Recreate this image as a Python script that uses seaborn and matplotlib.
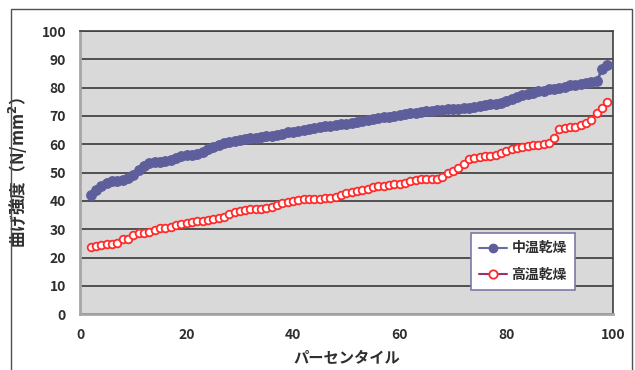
import matplotlib
matplotlib.use("Agg")
import matplotlib.pyplot as plt
import seaborn as sns
import pandas as pd
from matplotlib.patches import Rectangle
from matplotlib.lines import Line2D

# percentile positions
percentiles = list(range(2, 100))

# 中温乾燥 (medium temperature drying)
mid_temp = [
    42.0, 44.0, 45.2, 46.3, 46.9, 47.2, 47.5, 48.0, 49.0, 51.0,
    52.3, 53.5, 53.8, 53.9, 54.1, 54.6, 55.2, 55.8, 56.1, 56.2,
    56.5, 57.3, 58.4, 59.2, 59.8, 60.3, 60.7, 61.1, 61.5, 61.8,
    62.1, 62.4, 62.6, 62.8, 63.1, 63.4, 63.8, 64.2, 64.5, 64.8,
    65.1, 65.4, 65.7, 66.0, 66.3, 66.6, 66.8, 67.0, 67.2, 67.5,
    67.8, 68.2, 68.6, 68.9, 69.2, 69.5, 69.8, 70.1, 70.4, 70.7,
    71.0, 71.2, 71.4, 71.6, 71.8, 72.0, 72.2, 72.3, 72.5, 72.6,
    72.8, 73.0, 73.3, 73.6, 73.9, 74.1, 74.3, 74.6, 75.2, 76.0,
    76.8, 77.3, 77.8, 78.3, 78.7, 79.0, 79.4, 79.7, 80.0, 80.4,
    80.8, 81.1, 81.4, 81.7, 82.0, 82.3, 86.5, 88.0,
]

# 高温乾燥 (high temperature drying)
high_temp = [
    23.6, 24.0, 24.4, 24.6, 24.7, 25.2, 26.4, 26.7, 27.9, 28.5,
    28.7, 29.1, 29.7, 30.3, 30.6, 30.8, 31.4, 32.0, 32.3, 32.5,
    32.8, 33.0, 33.2, 33.5, 33.8, 34.4, 35.2, 36.1, 36.6, 36.9,
    37.0, 37.1, 37.2, 37.4, 37.7, 38.5, 39.3, 39.6, 40.0, 40.3,
    40.5, 40.6, 40.7, 40.8, 40.9, 41.1, 41.4, 42.0, 42.8, 43.2,
    43.5, 43.8, 44.2, 44.8, 45.2, 45.4, 45.6, 45.8, 46.0, 46.4,
    46.9, 47.3, 47.6, 47.7, 47.8, 47.9, 48.5, 49.7, 50.6, 51.5,
    53.2, 54.7, 55.2, 55.6, 55.8, 55.8, 56.2, 56.8, 57.6, 58.2,
    58.8, 59.1, 59.4, 59.6, 59.7, 60.0, 60.3, 62.4, 65.3, 65.6,
    66.0, 66.2, 66.8, 67.4, 68.5, 70.9, 73.0, 74.8,
]

series_labels = ["中温乾燥", "高温乾燥"]
x_ticks = [0, 20, 40, 60, 80, 100]
y_ticks = [0, 10, 20, 30, 40, 50, 60, 70, 80, 90, 100]

sns.set_style("white")
plt.rcParams["font.family"] = ["Noto Sans CJK JP", "DejaVu Sans"]

blue = "#5e5e9c"
red_edge = "#ff2a2a"
red_line = "#993366"
text_col = "#2e2e2e"

fig = plt.figure(figsize=(6.35, 3.7), dpi=100)
ax = fig.add_axes([0.126, 0.151, 0.839, 0.765])

df = pd.DataFrame({"x": percentiles, "mid": mid_temp, "high": high_temp})

sns.lineplot(data=df, x="x", y="mid", ax=ax, color=blue, lw=2,
             marker="o", markersize=7, markerfacecolor=blue,
             markeredgecolor=blue, zorder=3)
sns.lineplot(data=df, x="x", y="high", ax=ax, color=red_edge, lw=1,
             marker="o", markersize=5.5, markerfacecolor="white",
             markeredgecolor=red_edge, markeredgewidth=1.3, zorder=4)

ax.set_facecolor("#d9d9d9")
ax.set_xlim(0, 100)
ax.set_ylim(0, 100)
ax.set_xticks(x_ticks)
ax.set_yticks(y_ticks)
ax.yaxis.grid(True, color="#2b2b2b", lw=1.1)
ax.set_axisbelow(True)
ax.tick_params(length=0, pad=10, labelsize=10, colors=text_col)
for lab in ax.get_xticklabels() + ax.get_yticklabels():
    lab.set_fontweight("bold")

ax.spines["left"].set_color("#a6a6a6")
ax.spines["bottom"].set_color("#a6a6a6")
ax.spines["left"].set_linewidth(2)
ax.spines["bottom"].set_linewidth(2)
ax.spines["top"].set_color("#404040")
ax.spines["right"].set_color("#404040")
ax.spines["top"].set_linewidth(1.2)
ax.spines["right"].set_linewidth(1.2)

ax.set_xlabel("パーセンタイル", fontsize=11, fontweight="bold",
              color=text_col, labelpad=5)
ax.set_ylabel("曲げ強度（N/mm$^\\mathbf{2}$）", fontsize=12, fontweight="bold",
              color=text_col, labelpad=8)

handles = [
    Line2D([], [], color="#6a6aa8", lw=1.5, marker="o", markersize=6,
           markerfacecolor=blue, markeredgecolor=blue),
    Line2D([], [], color=red_line, lw=1.5, marker="o", markersize=6,
           markerfacecolor="white", markeredgecolor=red_edge,
           markeredgewidth=1.3),
]
leg = ax.legend(handles, series_labels, loc="lower left",
                bbox_to_anchor=(0.721, 0.06), frameon=True, fancybox=False,
                framealpha=1, edgecolor="#7a7aa8", handlelength=2.0,
                borderpad=0.6, labelspacing=0.9, handletextpad=0.3,
                prop={"weight": "bold", "size": 10})
leg.get_frame().set_linewidth(1.2)
for t in leg.get_texts():
    t.set_color(text_col)

# outer chart frame (cut off at the bottom like the reference)
fig.patches.append(Rectangle((11 / 635, -0.1), (632 - 11) / 635, 1.1 - 9 / 370,
                             transform=fig.transFigure, fill=False,
                             edgecolor="#505050", lw=1, clip_on=False))

fig.savefig("out.png", dpi=100)
